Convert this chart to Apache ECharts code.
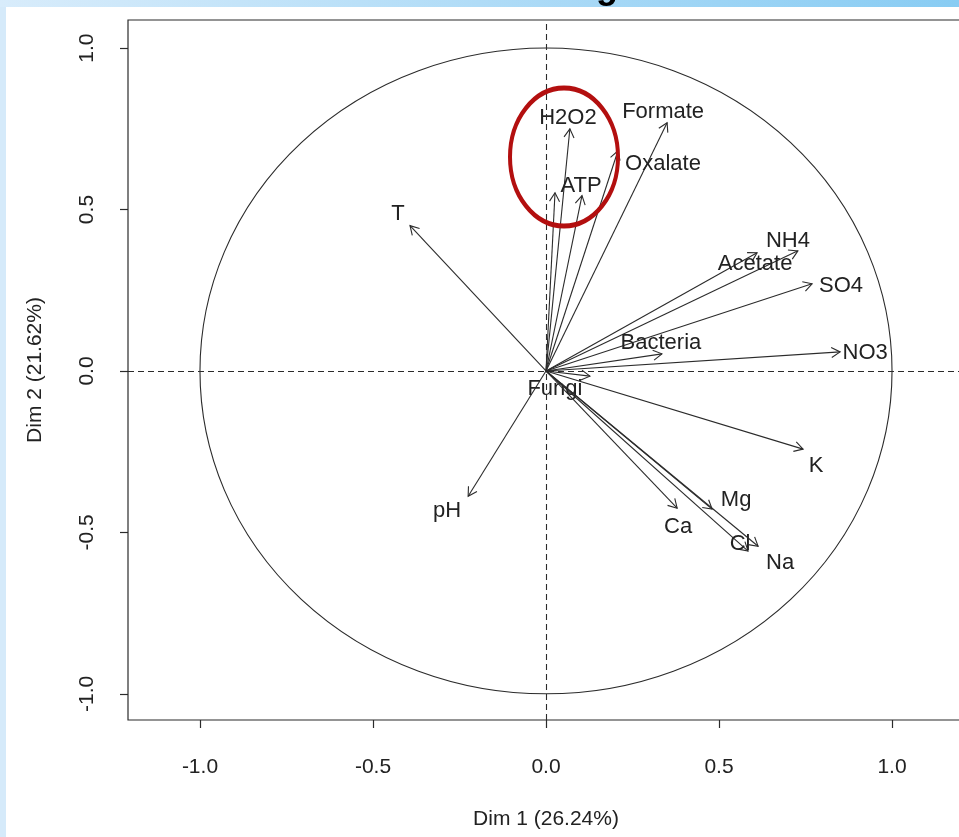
<!DOCTYPE html>
<html>
<head>
<meta charset="utf-8">
<script src="https://cdn.jsdelivr.net/npm/echarts@6/dist/echarts.min.js"></script>
<style>
  html, body { margin: 0; padding: 0; background: #fff; }
  #chart { width: 959px; height: 837px; }
</style>
</head>
<body>
<div id="chart"></div>
<script>
// variable loadings on the first two dimensions
const variables = ['H2O2', '', 'ATP', 'Formate', 'Oxalate', 'T', 'NH4', 'Acetate', 'SO4', 'Bacteria', 'NO3', 'Fungi', 'K', 'Mg', 'Ca', 'Cl', 'Na', 'pH']
const dim1 = [0.069, 0.026, 0.104, 0.350, 0.208, -0.393, 0.728, 0.610, 0.769, 0.335, 0.850, 0.127, 0.743, 0.480, 0.379, 0.584, 0.613, -0.225]
const dim2 = [0.750, 0.552, 0.543, 0.769, 0.682, 0.450, 0.372, 0.366, 0.270, 0.053, 0.059, -0.016, -0.242, -0.428, -0.425, -0.558, -0.543, -0.388]
const ticks = [-1.0, -0.5, 0.0, 0.5, 1.0]
const xName = 'Dim 1 (26.24%)'
const yName = 'Dim 2 (21.62%)'

// where each label sits relative to its arrow tip (px)
const labelOffset = {
  H2O2: [-2, -11], ATP: [-1, -10], Formate: [-4, -11], Oxalate: [45, 13],
  T: [-12, -12], NH4: [-10, -10], Acetate: [-2, 11], SO4: [29, 2],
  Bacteria: [-1, -11], NO3: [25, 1], Fungi: [-35, 13], K: [13, 17],
  Mg: [24, -9], Ca: [1, 19], Cl: [-8, -7], Na: [22, 17], pH: [-21, 15]
}

const ink = '#2b2b2b'
const font = "'Liberation Sans', Arial, sans-serif"

function renderArrow (params, api) {
  const name = variables[params.dataIndex]
  const p0 = api.coord([0, 0])
  const p1 = api.coord([api.value(0), api.value(1)])
  const ang = Math.atan2(p1[1] - p0[1], p1[0] - p0[0])
  const len = 10
  const spread = Math.PI / 6
  const h1 = [p1[0] - len * Math.cos(ang - spread), p1[1] - len * Math.sin(ang - spread)]
  const h2 = [p1[0] - len * Math.cos(ang + spread), p1[1] - len * Math.sin(ang + spread)]
  const off = labelOffset[name] || [0, -11]
  return {
    type: 'group',
    children: [
      { type: 'line', shape: { x1: p0[0], y1: p0[1], x2: p1[0], y2: p1[1] }, style: { stroke: ink, lineWidth: 1.1 } },
      { type: 'polyline', shape: { points: [h1, p1, h2] }, style: { stroke: ink, lineWidth: 1.1, fill: null } },
      {
        type: 'text',
        x: p1[0] + off[0],
        y: p1[1] + off[1],
        style: { text: name, fill: '#222', font: '22px ' + font, align: 'center', verticalAlign: 'middle' }
      }
    ]
  }
}

function renderCircle (params, api) {
  const c = api.coord([0, 0])
  const s = api.size([1, 1])
  return {
    type: 'circle',
    x: c[0],
    y: c[1],
    scaleY: s[1] / s[0],
    shape: { cx: 0, cy: 0, r: s[0] },
    style: { stroke: ink, lineWidth: 1.1, fill: null, strokeNoScale: true }
  }
}

const chart = echarts.init(document.getElementById('chart'))
const axisText = { color: '#222', fontSize: 21, fontFamily: font }

chart.setOption({
  animation: false,
  backgroundColor: '#fff',
  // box runs past the right edge of the picture, as in the original
  grid: {
    left: 128, top: 20, width: 836, height: 700,
    outerBoundsMode: 'none', containLabel: false,
    show: true, borderColor: ink, borderWidth: 1.2
  },
  xAxis: {
    type: 'value',
    min: -1.208,
    max: 1.208,
    name: xName,
    nameLocation: 'middle',
    nameGap: 89,
    nameTextStyle: axisText,
    axisLine: { show: false, onZero: false },
    axisTick: { show: true, length: 8, customValues: ticks, lineStyle: { color: ink, width: 1.2 } },
    axisLabel: Object.assign({ customValues: ticks, margin: 37, formatter: v => v.toFixed(1) }, axisText),
    splitLine: { show: false }
  },
  yAxis: {
    type: 'value',
    min: -1.081,
    max: 1.087,
    name: yName,
    nameLocation: 'middle',
    nameGap: 82,
    nameRotate: 90,
    nameTextStyle: axisText,
    axisLine: { show: false, onZero: false },
    axisTick: { show: true, length: 8, customValues: ticks, lineStyle: { color: ink, width: 1.2 } },
    axisLabel: Object.assign({ customValues: ticks, margin: 30, rotate: 90, formatter: v => v.toFixed(1) }, axisText),
    splitLine: { show: false }
  },
  graphic: [
    { type: 'rect', shape: { x: 0, y: 0, width: 6, height: 837 }, style: { fill: '#d5eafa' } },
    {
      type: 'rect',
      shape: { x: 0, y: 0, width: 959, height: 7 },
      style: {
        fill: new echarts.graphic.LinearGradient(0, 0, 1, 0, [
          { offset: 0, color: '#d8ecfb' },
          { offset: 1, color: '#88ccf3' }
        ])
      }
    },
    { type: 'text', x: 607, y: -12, style: { text: 'g', font: 'bold 36px ' + font, fill: '#000', align: 'center', verticalAlign: 'middle' } },
    {
      type: 'circle',
      x: 564,
      y: 157,
      scaleY: 69 / 54,
      shape: { cx: 0, cy: 0, r: 54 },
      style: { stroke: '#b30f0f', lineWidth: 4, fill: null, strokeNoScale: true },
      z: 100
    }
  ],
  series: [
    {
      type: 'custom',
      renderItem: renderCircle,
      data: [[0, 0]],
      silent: true,
      markLine: {
        silent: true,
        symbol: 'none',
        label: { show: false },
        lineStyle: { color: ink, width: 1.1, type: [6, 4] },
        data: [{ xAxis: 0 }, { yAxis: 0 }]
      }
    },
    {
      type: 'custom',
      renderItem: renderArrow,
      data: dim1.map((v, i) => [v, dim2[i]]),
      silent: true
    }
  ]
})
</script>
</body>
</html>
